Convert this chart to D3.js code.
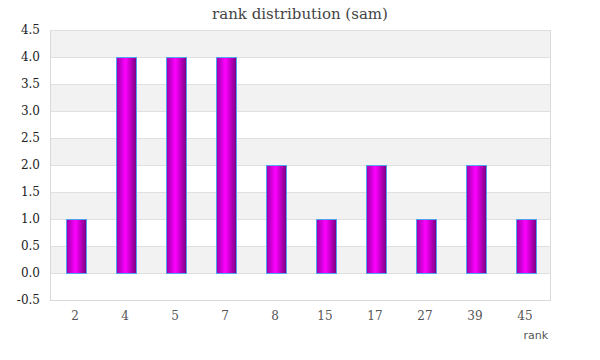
<!DOCTYPE html>
<html><head><meta charset="utf-8">
<script src="https://cdn.jsdelivr.net/npm/d3@7"></script>
<style>body{margin:0;background:#fff}svg{display:block}</style>
</head><body>
<svg id="c" width="600" height="360"></svg>
<script>
const categories = ["2","4","5","7","8","15","17","27","39","45"];
const counts = [1,4,4,4,2,1,2,1,2,1];
const yTicks = [-0.5,0,0.5,1,1.5,2,2.5,3,3.5,4,4.5];
const titleText = "rank distribution (sam)";
const xTitle = "rank";

const svg = d3.select("#c");
const m = {l:50, r:50, t:30, b:60};
const W = 600, H = 360;
const x = d3.scaleBand().domain(categories).range([m.l, W-m.r]).paddingInner(0).paddingOuter(0);
const y = d3.scaleLinear().domain([-0.5,4.5]).range([H-m.b, m.t]);

const defs = svg.append("defs");
const g = defs.append("linearGradient").attr("id","bg").attr("x1","0%").attr("x2","100%").attr("y1","0%").attr("y2","0%");
g.append("stop").attr("offset","0%").attr("stop-color","#9a00a8");
g.append("stop").attr("offset","45%").attr("stop-color","#ff00ff");
g.append("stop").attr("offset","100%").attr("stop-color","#78007e");

// alternating bands
for (let i=0;i<yTicks.length-1;i++){
  const lo=yTicks[i], hi=yTicks[i+1];
  const gray = (yTicks.length-2-i)%2===0;
  svg.append("rect").attr("x",m.l).attr("width",W-m.r-m.l)
    .attr("y",y(hi)).attr("height",y(lo)-y(hi))
    .attr("fill", gray ? "#f2f2f2" : "#ffffff");
}
// grid lines
svg.append("g").selectAll("line").data(yTicks).join("line")
  .attr("x1",m.l).attr("x2",W-m.r).attr("y1",d=>y(d)+0.5).attr("y2",d=>y(d)+0.5)
  .attr("stroke","#e0e0e0").attr("stroke-width",1);
// frame
svg.append("line").attr("x1",m.l+0.5).attr("x2",m.l+0.5).attr("y1",m.t).attr("y2",H-m.b+1).attr("stroke","#d9d9d9");
svg.append("line").attr("x1",W-m.r+0.5).attr("x2",W-m.r+0.5).attr("y1",m.t).attr("y2",H-m.b+1).attr("stroke","#d9d9d9");
svg.append("line").attr("x1",m.l).attr("x2",W-m.r+1).attr("y1",H-m.b+0.5).attr("y2",H-m.b+0.5).attr("stroke","#d9d9d9");

// bars
const bw = 20;
svg.append("g").selectAll("rect").data(categories).join("rect")
  .attr("x",(d)=>x(d)+x.bandwidth()/2-bw/2+1.5)
  .attr("width",bw)
  .attr("y",(d,i)=>y(counts[i])+0.5)
  .attr("height",(d,i)=>y(0)-y(counts[i]))
  .attr("fill","url(#bg)")
  .attr("stroke","#4fa3f0").attr("stroke-width",1);

// y tick labels
svg.append("g").selectAll("text").data(yTicks).join("text")
  .attr("x",40).attr("y",d=>y(d)+4)
  .attr("text-anchor","end")
  .attr("font-family","'DejaVu Serif', serif").attr("font-size",12)
  .attr("fill","#222")
  .text(d=>d3.format(".1f")(d).replace("\u2212","-"));
// x tick labels
svg.append("g").selectAll("text").data(categories).join("text")
  .attr("x",d=>x(d)+x.bandwidth()/2).attr("y",320)
  .attr("text-anchor","middle")
  .attr("font-family","'DejaVu Serif', serif").attr("font-size",12)
  .attr("fill","#555")
  .text(d=>d);
// axis title
svg.append("text").attr("x",548).attr("y",339).attr("text-anchor","end")
  .attr("font-family","'DejaVu Sans', sans-serif").attr("font-size",11).attr("fill","#555").text(xTitle);
// title
svg.append("text").attr("x",300).attr("y",19).attr("text-anchor","middle")
  .attr("font-family","'DejaVu Serif', serif").attr("font-size",15).attr("fill","#444").text(titleText);
</script>
</body></html>
